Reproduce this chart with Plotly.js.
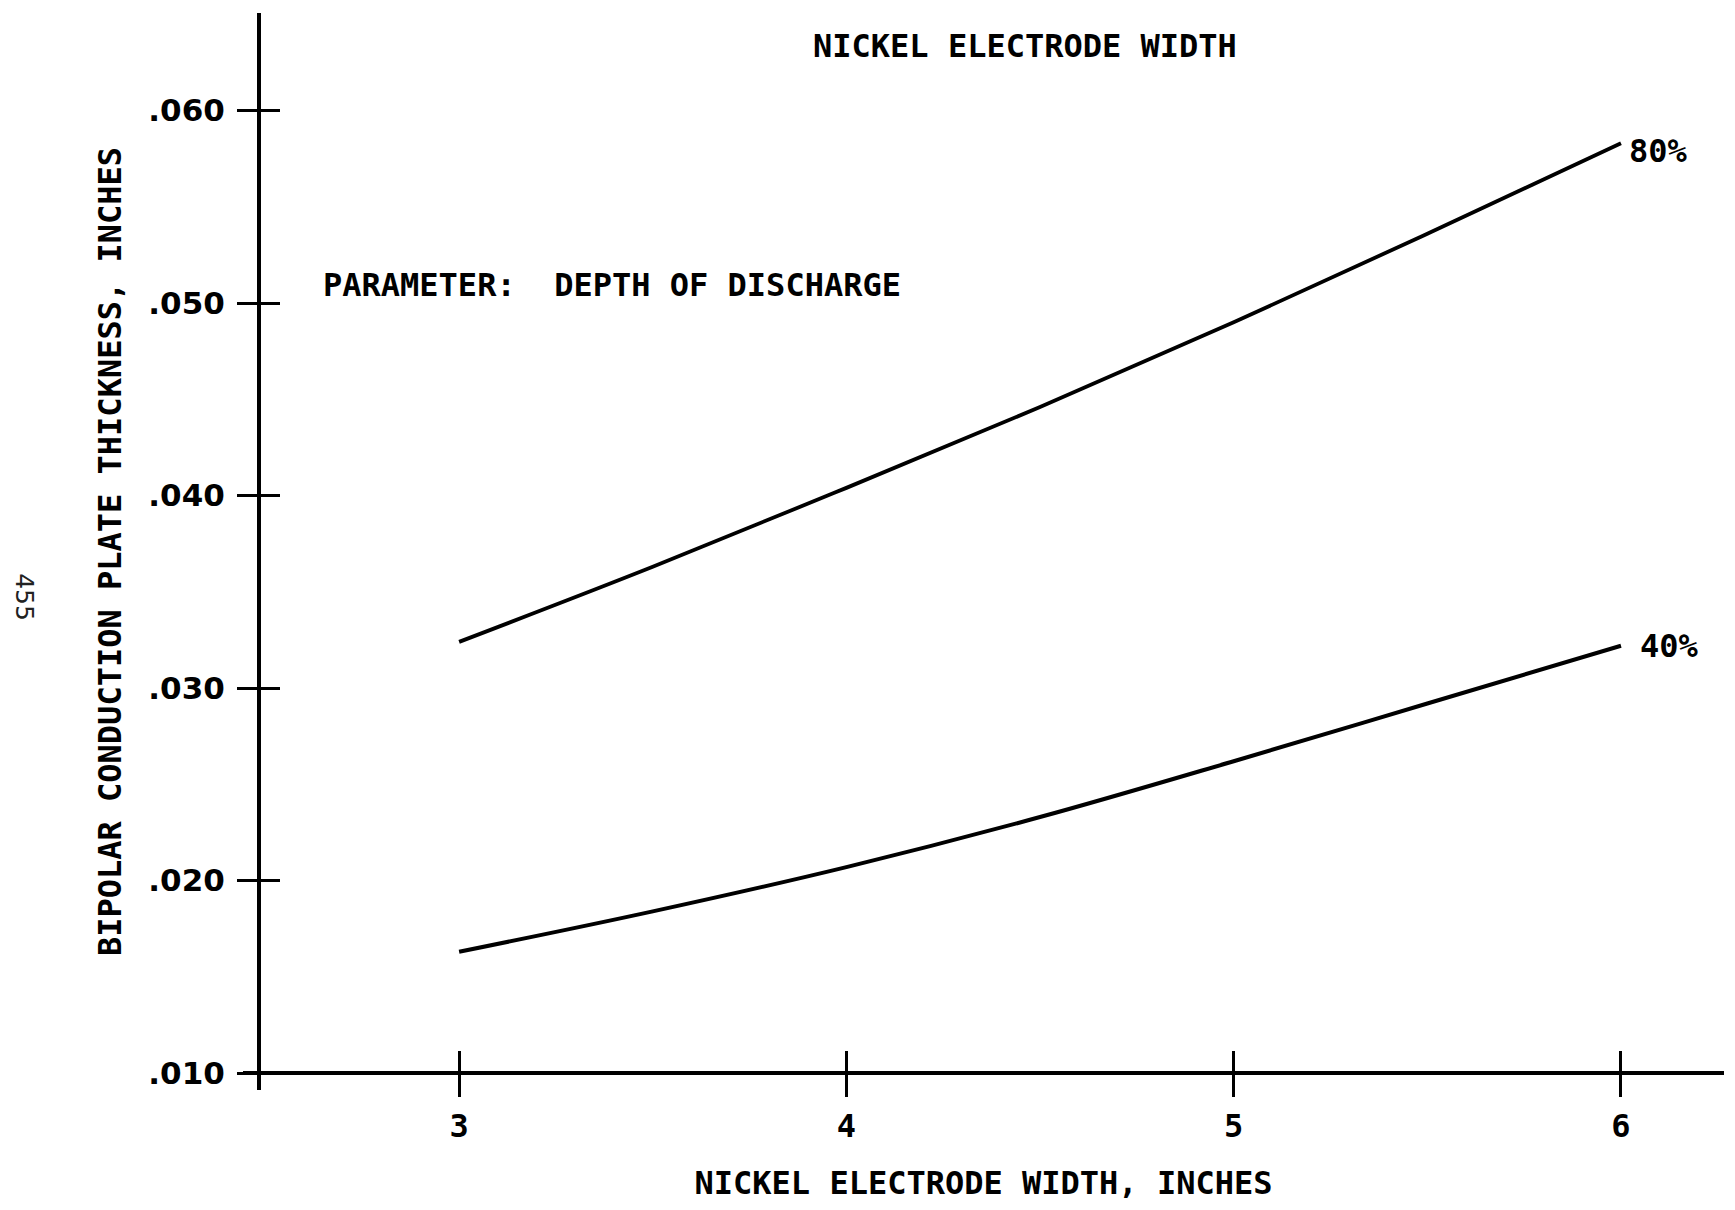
<!DOCTYPE html>
<html>
<head>
<meta charset="utf-8">
<script src="https://cdn.plot.ly/plotly-3.0.1.min.js"></script>
<style>
  html, body { margin: 0; padding: 0; background: #ffffff; }
  #chart { width: 1735px; height: 1210px; }
</style>
</head>
<body>
<div id="chart"></div>
<script>
// ---- data ----
const electrodeWidth = [3, 3.5, 4, 4.5, 5, 5.5, 6];           // inches
const thickness80 = [0.0324, 0.0363, 0.0404, 0.0446, 0.0490, 0.0536, 0.0583]; // 80% DOD
const thickness40 = [0.0163, 0.0184, 0.0207, 0.0233, 0.0262, 0.0292, 0.0322]; // 40% DOD
const seriesNames = ['80%', '40%'];
const xTickVals = [3, 4, 5, 6];
const xTickText = ['3', '4', '5', '6'];
const yTickVals = [0.010, 0.020, 0.030, 0.040, 0.050, 0.060];
const yTickText = ['.010', '.020', '.030', '.040', '.050', '.060'];

const titleText = 'NICKEL ELECTRODE WIDTH';
const xTitleText = 'NICKEL ELECTRODE WIDTH, INCHES';
const yTitleText = 'BIPOLAR CONDUCTION PLATE THICKNESS, INCHES';
const paramText = 'PARAMETER:\u00A0 DEPTH OF DISCHARGE';
const pageNumber = '455';

// ---- styling ----
const MONO = '"DejaVu Sans Mono", monospace';
const SANS = '"DejaVu Sans", sans-serif';
const INK = '#000000';

const xRange = [2.442, 6.266];
const yRange = [0.00912, 0.06507];
const xAxisPos = (0.010 - yRange[0]) / (yRange[1] - yRange[0]);
const yAxisPos = 0.0108;

const traces = [
  {
    x: electrodeWidth, y: thickness80, name: seriesNames[0],
    type: 'scatter', mode: 'lines',
    line: { color: INK, width: 3.8, shape: 'spline', smoothing: 1 },
    xaxis: 'x', yaxis: 'y', showlegend: false, hoverinfo: 'x+y+name'
  },
  {
    x: electrodeWidth, y: thickness40, name: seriesNames[1],
    type: 'scatter', mode: 'lines',
    line: { color: INK, width: 4, shape: 'spline', smoothing: 1 },
    xaxis: 'x2', yaxis: 'y2', showlegend: false, hoverinfo: 'x+y+name'
  }
];

const n = electrodeWidth.length - 1;

const layout = {
  width: 1735, height: 1210,
  paper_bgcolor: '#ffffff', plot_bgcolor: '#ffffff',
  margin: { l: 243, r: 11, t: 13, b: 120 },
  showlegend: false,
  title: {
    text: titleText,
    font: { family: MONO, size: 32, color: INK, weight: 'bold' },
    x: 0.528, xanchor: 'center', xref: 'paper',
    y: 0.962, yanchor: 'middle', yref: 'container'
  },
  xaxis: {
    range: xRange, anchor: 'free', position: xAxisPos,
    tickmode: 'array', tickvals: xTickVals, ticktext: xTickText,
    ticks: 'outside', ticklen: 22, tickwidth: 3, tickcolor: INK,
    ticklabelstandoff: 2,
    showline: true, linewidth: 4, linecolor: INK,
    showgrid: false, zeroline: false,
    tickfont: { family: MONO, size: 32, color: INK, weight: 'bold' },
    title: {
      text: xTitleText, standoff: 26,
      font: { family: MONO, size: 32, color: INK, weight: 'bold' }
    }
  },
  xaxis2: {
    matches: 'x', overlaying: 'x', anchor: 'free', position: xAxisPos,
    tickmode: 'array', tickvals: xTickVals,
    ticks: 'inside', ticklen: 22, tickwidth: 3, tickcolor: INK,
    showticklabels: false, showline: false, showgrid: false, zeroline: false
  },
  yaxis: {
    range: yRange, anchor: 'free', position: yAxisPos,
    tickmode: 'array', tickvals: yTickVals, ticktext: yTickText,
    ticks: 'outside', ticklen: 20, tickwidth: 3, tickcolor: INK,
    ticklabelstandoff: 6,
    showline: true, linewidth: 4, linecolor: INK,
    showgrid: false, zeroline: false,
    tickfont: { family: SANS, size: 31, color: INK, weight: 'bold' },
    title: {
      text: yTitleText, standoff: 16,
      font: { family: MONO, size: 32, color: INK, weight: 'bold' }
    }
  },
  yaxis2: {
    matches: 'y', overlaying: 'y', anchor: 'free', position: yAxisPos,
    tickmode: 'array', tickvals: yTickVals,
    ticks: 'inside', ticklen: 20, tickwidth: 3, tickcolor: INK,
    showticklabels: false, showline: false, showgrid: false, zeroline: false
  },
  annotations: [
    {
      text: seriesNames[0], xref: 'x', yref: 'y',
      x: electrodeWidth[n], y: thickness80[n],
      xanchor: 'left', yanchor: 'middle', xshift: 6, yshift: -8,
      showarrow: false,
      font: { family: MONO, size: 32, color: INK, weight: 'bold' }
    },
    {
      text: seriesNames[1], xref: 'x', yref: 'y',
      x: electrodeWidth[n], y: thickness40[n],
      xanchor: 'left', yanchor: 'middle', xshift: 17, yshift: 0,
      showarrow: false,
      font: { family: MONO, size: 32, color: INK, weight: 'bold' }
    },
    {
      text: paramText, xref: 'paper', yref: 'paper',
      x: 0.0527, y: 0.7474, xanchor: 'left', yanchor: 'middle',
      showarrow: false,
      font: { family: MONO, size: 32, color: INK, weight: 'bold' }
    },
    {
      text: pageNumber, xref: 'paper', yref: 'paper',
      x: -0.148, y: 0.4578, xanchor: 'center', yanchor: 'middle',
      textangle: 90, showarrow: false,
      font: { family: SANS, size: 25, color: '#222222' }
    }
  ]
};

Plotly.newPlot('chart', traces, layout, { displayModeBar: false, staticPlot: true });
</script>
</body>
</html>
